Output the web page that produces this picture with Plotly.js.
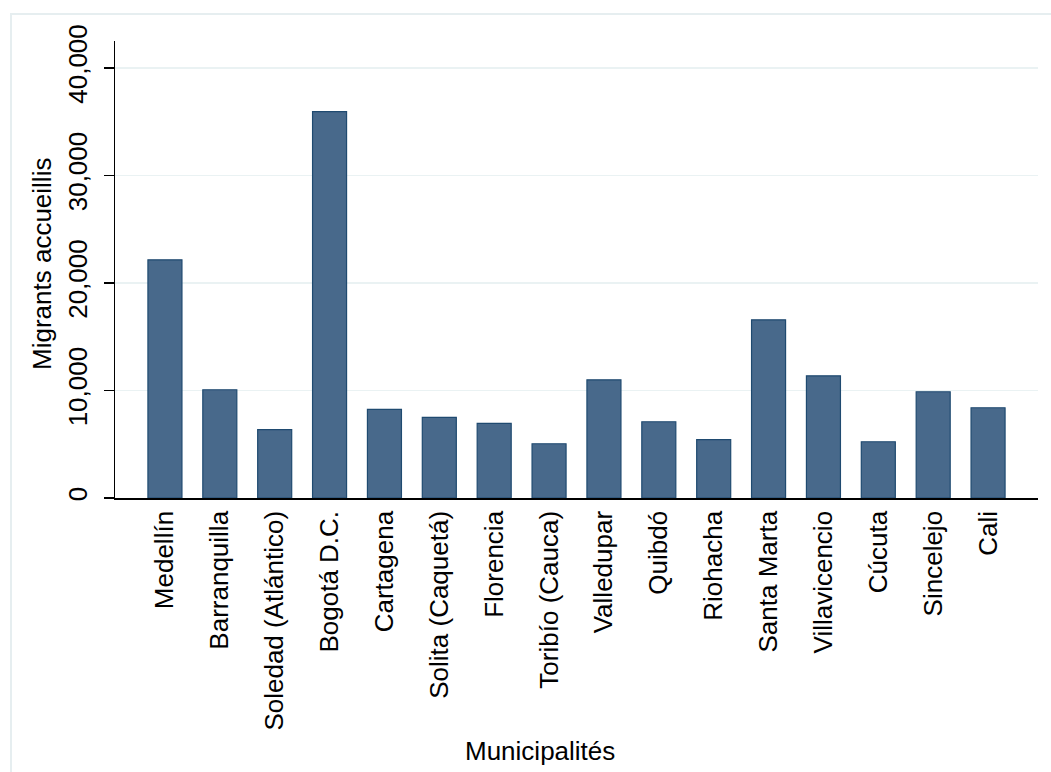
<!DOCTYPE html>
<html>
<head>
<meta charset="utf-8">
<script src="https://cdn.plot.ly/plotly-3.0.1.min.js"></script>
<style>html,body{margin:0;padding:0;background:#fff;}#chart{width:1051px;height:772px;}</style>
</head>
<body>
<div id="chart"></div>
<script>
const municipalities = ["Medellín","Barranquilla","Soledad (Atlántico)","Bogotá D.C.","Cartagena","Solita (Caquetá)","Florencia","Toribío (Cauca)","Valledupar","Quibdó","Riohacha","Santa Marta","Villavicencio","Cúcuta","Sincelejo","Cali"];
const migrants = [22150,10065,6350,35930,8234,7490,6933,5046,10994,7091,5437,16570,11366,5232,9879,8392];
const yTickValues = [0,10000,20000,30000,40000];
const yTickLabels = ["0","10,000","20,000","30,000","40,000"];
const xTitle = "Municipalités";
const yTitle = "Migrants accueillis";

const FONT = "'Liberation Sans', Arial, sans-serif";
const W = 1051, H = 772, L = 115, R = 13, T = 41, B = 274;
const pw = W - L - R, ph = H - T - B;
const px = x => (x - L) / pw;
const py = y => (H - B - y) / ph;

const trace = {
  type: "bar",
  x: municipalities.map((_, i) => i),
  y: migrants,
  width: 0.62,
  marker: {color: "#48698b", line: {color: "#1f4a70", width: 1.2}},
  hoverinfo: "x+y"
};

const layout = {
  width: W, height: H,
  margin: {l: L, r: R, t: T, b: B, pad: 0},
  paper_bgcolor: "#ffffff",
  plot_bgcolor: "#ffffff",
  showlegend: false,
  font: {family: FONT, size: 26, color: "#000"},
  xaxis: {
    range: [-0.91, 15.91],
    tickmode: "array",
    tickvals: municipalities.map((_, i) => i),
    ticktext: municipalities,
    tickangle: -90,
    ticks: "",
    ticklabelstandoff: 1,
    showgrid: false,
    zeroline: false,
    showline: true,
    linecolor: "#000",
    linewidth: 1.5,
    tickfont: {family: FONT, size: 26, color: "#000"},
    fixedrange: true
  },
  yaxis: {
    range: [0, 42500],
    tickmode: "array",
    tickvals: yTickValues,
    ticktext: yTickLabels,
    tickangle: -90,
    ticks: "outside",
    ticklen: 10,
    tickwidth: 1.5,
    tickcolor: "#000",
    ticklabelstandoff: 6,
    showgrid: true,
    gridcolor: "#eaf2f3",
    gridwidth: 1.5,
    zeroline: false,
    showline: true,
    linecolor: "#000",
    linewidth: 1.5,
    tickfont: {family: FONT, size: 26, color: "#000"},
    fixedrange: true
  },
  shapes: [{
    type: "rect", xref: "paper", yref: "paper",
    x0: px(11), x1: px(1070), y0: py(790), y1: py(14),
    line: {color: "#e6eef0", width: 2}, fillcolor: "rgba(0,0,0,0)", layer: "below"
  }],
  annotations: [{
    text: xTitle, xref: "paper", yref: "paper",
    x: px(540), y: py(751), xanchor: "center", yanchor: "middle",
    showarrow: false, font: {family: FONT, size: 26, color: "#000"}
  }, {
    text: yTitle, xref: "paper", yref: "paper", textangle: -90,
    x: px(42), y: py(264), xanchor: "center", yanchor: "middle",
    showarrow: false, font: {family: FONT, size: 26, color: "#000"}
  }]
};

Plotly.newPlot("chart", [trace], layout, {displayModeBar: false, staticPlot: true});
</script>
</body>
</html>
